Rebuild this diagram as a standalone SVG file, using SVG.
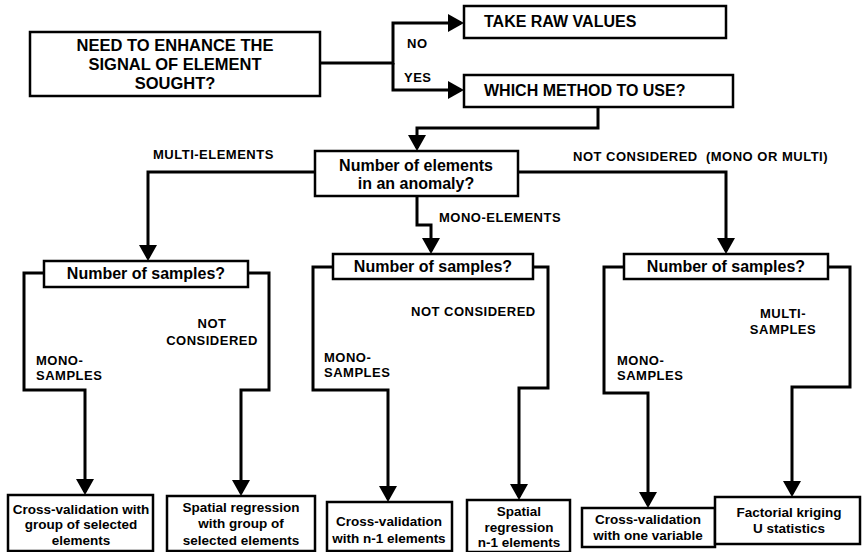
<svg xmlns="http://www.w3.org/2000/svg" width="862" height="552" viewBox="0 0 862 552">
<defs>
<style>
.box{fill:#fff;stroke:#000;stroke-width:2.5}
.c{fill:none;stroke:#000;stroke-width:3;stroke-linejoin:miter}
text{font-family:"Liberation Sans",Arial,sans-serif;font-weight:bold;fill:#000}
.t16{font-size:16px}
.t165{font-size:16.5px}
.tb{font-size:13.5px;text-anchor:middle}
.lb{font-size:13px;letter-spacing:0.5px}
.mid{text-anchor:middle}
</style>
<marker id="ah" viewBox="0 0 16 18" refX="13" refY="9" markerWidth="16" markerHeight="18" markerUnits="userSpaceOnUse" orient="auto">
<path d="M0,0 L16,9 L0,18 z" fill="#000"/>
</marker>
</defs>
<rect width="862" height="552" fill="#fff"/>
<g id="connectors">
<path class="c" d="M320,63 H393 V23 H461" marker-end="url(#ah)"/>
<path class="c" d="M393,63 V90 H461" marker-end="url(#ah)"/>
<path class="c" d="M598,107 V128 H417 V148" marker-end="url(#ah)"/>
<path class="c" d="M315,172 H148 V258" marker-end="url(#ah)"/>
<path class="c" d="M417,196 V225 H431 V251" marker-end="url(#ah)"/>
<path class="c" d="M518,172 H726 V251" marker-end="url(#ah)"/>
<path class="c" d="M44,273 H24 V390 H85 V492" marker-end="url(#ah)"/>
<path class="c" d="M248,273 H269 V390 H241 V493" marker-end="url(#ah)"/>
<path class="c" d="M333,267 H313 V390 H388 V499" marker-end="url(#ah)"/>
<path class="c" d="M533,267 H548 V388 H519 V497" marker-end="url(#ah)"/>
<path class="c" d="M624,267 H604 V393 H648 V505" marker-end="url(#ah)"/>
<path class="c" d="M828,267 H850 V387 H792 V494" marker-end="url(#ah)"/>
</g>
<g id="labels">
<text class="lb" x="407" y="48">NO</text>
<text class="lb" x="404" y="82">YES</text>
<text class="lb" x="153" y="159">MULTI-ELEMENTS</text>
<text class="lb" x="439" y="222">MONO-ELEMENTS</text>
<text class="lb" x="573" y="161" xml:space="preserve">NOT CONSIDERED  (MONO OR MULTI)</text>
<text class="lb mid" x="212" y="328">NOT</text>
<text class="lb mid" x="212" y="345">CONSIDERED</text>
<text class="lb" x="36" y="365">MONO-</text>
<text class="lb" x="36" y="380">SAMPLES</text>
<text class="lb" x="411" y="316">NOT CONSIDERED</text>
<text class="lb" x="324" y="362">MONO-</text>
<text class="lb" x="324" y="377">SAMPLES</text>
<text class="lb" x="617" y="365">MONO-</text>
<text class="lb" x="617" y="380">SAMPLES</text>
<text class="lb mid" x="783" y="318">MULTI-</text>
<text class="lb mid" x="783" y="334">SAMPLES</text>
</g>
<g id="n-enhance">
<rect class="box" x="30" y="32" width="290" height="64"/>
<text class="t165 mid" x="175" y="51">NEED TO ENHANCE THE</text>
<text class="t165 mid" x="175" y="70">SIGNAL OF ELEMENT</text>
<text class="t165 mid" x="175" y="89">SOUGHT?</text>
</g>
<g id="n-raw">
<rect class="box" x="464" y="6" width="262" height="32"/>
<text class="t16" x="484" y="27">TAKE RAW VALUES</text>
</g>
<g id="n-method">
<rect class="box" x="464" y="75" width="269" height="32"/>
<text class="t16" x="484" y="96">WHICH METHOD TO USE?</text>
</g>
<g id="n-elements">
<rect class="box" x="315" y="151" width="203" height="45"/>
<text class="t16 mid" x="416" y="171">Number of elements</text>
<text class="t16 mid" x="416" y="189">in an anomaly?</text>
</g>
<g id="n-samples1">
<rect class="box" x="44" y="261" width="204" height="26"/>
<text class="t16 mid" x="146" y="279">Number of samples?</text>
</g>
<g id="n-samples2">
<rect class="box" x="333" y="254" width="200" height="25"/>
<text class="t16 mid" x="433" y="272">Number of samples?</text>
</g>
<g id="n-samples3">
<rect class="box" x="624" y="254" width="204" height="25"/>
<text class="t16 mid" x="726" y="272">Number of samples?</text>
</g>
<g id="n-b1">
<rect class="box" x="8" y="495" width="145" height="56"/>
<text class="tb" x="81" y="514">Cross-validation with</text>
<text class="tb" x="81" y="529">group of selected</text>
<text class="tb" x="81" y="545">elements</text>
</g>
<g id="n-b2">
<rect class="box" x="167" y="496" width="148" height="55"/>
<text class="tb" x="241" y="512">Spatial regression</text>
<text class="tb" x="241" y="528">with group of</text>
<text class="tb" x="241" y="545">selected elements</text>
</g>
<g id="n-b3">
<rect class="box" x="327" y="502" width="125" height="49"/>
<text class="tb" x="389" y="526">Cross-validation</text>
<text class="tb" x="389" y="543">with n-1 elements</text>
</g>
<g id="n-b4">
<rect class="box" x="467" y="500" width="103" height="52"/>
<text class="tb" x="519" y="516">Spatial</text>
<text class="tb" x="519" y="532">regression</text>
<text class="tb" x="519" y="547">n-1 elements</text>
</g>
<g id="n-b5">
<rect class="box" x="582" y="508" width="133" height="39"/>
<text class="tb" x="648" y="524">Cross-validation</text>
<text class="tb" x="648" y="540">with one variable</text>
</g>
<g id="n-b6">
<rect class="box" x="715" y="497" width="145" height="47"/>
<text class="tb" x="789" y="517">Factorial kriging</text>
<text class="tb" x="789" y="533">U statistics</text>
</g>
</svg>
